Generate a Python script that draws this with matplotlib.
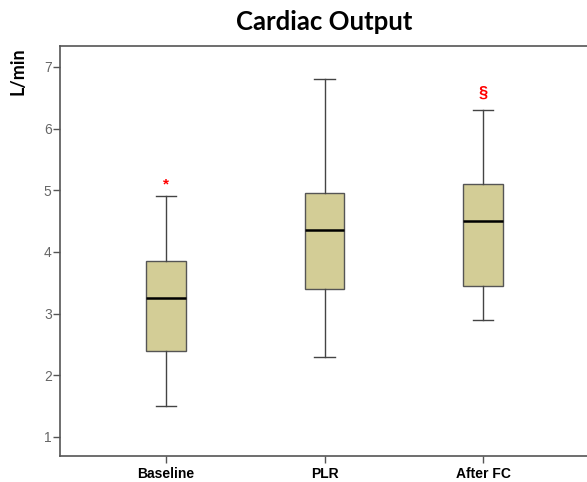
import matplotlib
matplotlib.use('Agg')
import matplotlib.pyplot as plt

groups = ['Baseline', 'PLR', 'After FC']
whislo = [1.5, 2.3, 2.9]
q1 = [2.4, 3.4, 3.45]
med = [3.25, 4.35, 4.5]
q3 = [3.85, 4.95, 5.1]
whishi = [4.9, 6.8, 6.3]
# significance marks drawn above the whiskers
marks = ['*', '§', '§']
mark_y = [5.1, None, 6.58]

stats = []
for i, g in enumerate(groups):
    stats.append(dict(label=g, whislo=whislo[i], q1=q1[i], med=med[i],
                      q3=q3[i], whishi=whishi[i], fliers=[]))

fig = plt.figure(figsize=(5.87, 4.82), dpi=100)
ax = fig.add_axes([60/587, 26/482, 527/587, 410/482])

ax.bxp(stats, positions=[1, 2, 3], widths=0.25, patch_artist=True,
       showfliers=False,
       boxprops=dict(facecolor='#d3cd96', edgecolor='#555555', lw=1),
       medianprops=dict(color='black', lw=1.8),
       whiskerprops=dict(color='#444444', lw=1),
       capprops=dict(color='#444444', lw=1), capwidths=0.13)

for i in range(len(groups)):
    if mark_y[i] is not None:
        if marks[i] == '*':
            ax.text(i + 1, mark_y[i], marks[i], color='red', ha='center',
                    va='center', fontsize=11, fontweight='bold',
                    family='Liberation Sans')
        else:
            ax.text(i + 1, mark_y[i], marks[i], color='red', ha='center',
                    va='center', fontsize=12, fontweight='bold',
                    family='Liberation Sans')

ax.set_xlim(0.331, 3.656)
ax.set_ylim(0.69, 7.34)
ax.set_yticks([1, 2, 3, 4, 5, 6, 7])
ax.set_xticks([1, 2, 3])
ax.set_xticklabels(groups, fontsize=10, fontweight='bold', family='Liberation Sans')
for lab in ax.get_yticklabels():
    lab.set_family('Liberation Sans')
    lab.set_fontsize(10)
    lab.set_color('#666666')
ax.tick_params(axis='both', length=5, width=1, color='#555555', direction='out')
ax.tick_params(axis='y', pad=1)
ax.tick_params(axis='x', pad=3)
ax.spines['right'].set_visible(False)
for side in ['left', 'top', 'bottom']:
    ax.spines[side].set_color('#555555')
    ax.spines[side].set_linewidth(1.2)

fig.text(324/587, 1 - 22/482, 'Cardiac Output', ha='center', va='center',
         fontsize=18.5, fontweight='bold', family='Lato')
fig.text(18/587, 1 - 71/482, 'L/min', ha='center', va='center', rotation=90,
         fontsize=13, fontweight='bold', family='Lato')

fig.savefig('out.png', dpi=100)
